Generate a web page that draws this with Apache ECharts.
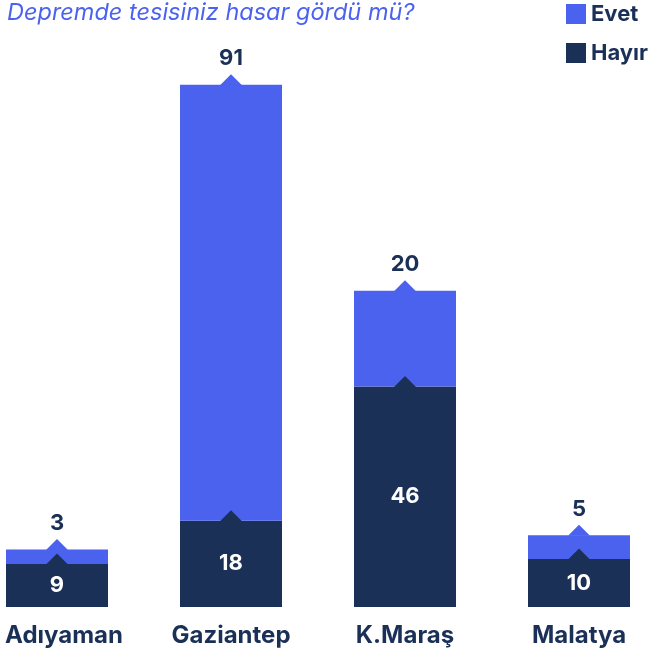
<!DOCTYPE html>
<html>
<head>
<meta charset="utf-8">
<script src="https://cdn.jsdelivr.net/npm/echarts@6/dist/echarts.min.js"></script>
<style>
  html, body { margin: 0; padding: 0; background: #fff; }
  #chart { width: 651px; height: 658px; }
</style>
</head>
<body>
<div id="chart"></div>
<script>
var categories = ['Adıyaman', 'Gaziantep', 'K.Maraş', 'Malatya'];
var hayir = [9, 18, 46, 10];
var evet = [3, 91, 20, 5];

(function () {
    var myChart = echarts.init(document.getElementById('chart'));
    var blue = '#4b62ee';
    var navy = '#1a3057';
    var font = 'Inter';

    // tops of each stacked segment, for the little notch markers
    var evetTop = evet.map(function (v, i) { return v + hayir[i]; });

    var option = {
        animation: false,
        title: {
            text: 'Depremde tesisiniz hasar gördü mü?',
            left: 2,
            top: -4,
            textStyle: {
                color: blue,
                fontStyle: 'italic',
                fontWeight: 'normal',
                fontFamily: font,
                fontSize: 23.5
            }
        },
        legend: {
            orient: 'vertical',
            right: -2,
            top: -2,
            icon: 'rect',
            itemWidth: 20,
            itemHeight: 20,
            itemGap: 17,
            data: ['Evet', 'Hayır'],
            textStyle: {
                color: navy,
                fontWeight: 'bold',
                fontFamily: font,
                fontSize: 22
            }
        },
        grid: {
            left: -30,
            right: -15,
            top: 32,
            bottom: 51,
            outerBoundsMode: 'none'
        },
        xAxis: {
            type: 'category',
            data: categories,
            axisLine: { show: false },
            axisTick: { show: false },
            axisLabel: {
                interval: 0,
                hideOverlap: false,
                color: navy,
                fontWeight: 'bold',
                fontFamily: font,
                fontSize: 24,
                margin: 17,
                // first label sits flush with the left edge, nudge it right
                formatter: function (v, i) {
                    return i === 0 ? '{first|' + v + '}' : v;
                },
                rich: {
                    first: {
                        color: navy,
                        fontWeight: 'bold',
                        fontFamily: font,
                        fontSize: 24,
                        padding: [0, 0, 0, 14]
                    }
                }
            }
        },
        yAxis: {
            type: 'value',
            min: 0,
            max: 120,
            show: false,
            splitLine: { show: false }
        },
        series: [
            {
                name: 'Hayır',
                type: 'bar',
                stack: 'all',
                barWidth: 102,
                itemStyle: { color: navy },
                label: {
                    show: true,
                    position: 'inside',
                    color: '#fff',
                    fontWeight: 'bold',
                    fontFamily: font,
                    fontSize: 22
                },
                data: hayir
            },
            {
                name: 'Evet',
                type: 'bar',
                stack: 'all',
                barWidth: 102,
                itemStyle: { color: blue },
                label: {
                    show: true,
                    position: 'top',
                    distance: 15,
                    color: navy,
                    fontWeight: 'bold',
                    fontFamily: font,
                    fontSize: 22
                },
                data: evet
            },
            {
                type: 'scatter',
                symbol: 'triangle',
                symbolSize: [22, 11],
                symbolOffset: [0, -5],
                itemStyle: { color: navy, opacity: 1 },
                z: 5,
                silent: true,
                data: hayir
            },
            {
                type: 'scatter',
                symbol: 'triangle',
                symbolSize: [22, 11],
                symbolOffset: [0, -5],
                itemStyle: { color: blue, opacity: 1 },
                z: 5,
                silent: true,
                data: evetTop
            }
        ]
    };

    myChart.setOption(option);
})();
</script>
</body>
</html>
